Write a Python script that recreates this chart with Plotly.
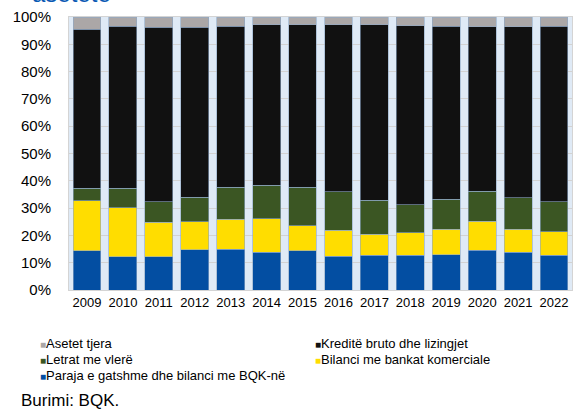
import plotly.graph_objects as go

years = ["2009", "2010", "2011", "2012", "2013", "2014", "2015",
         "2016", "2017", "2018", "2019", "2020", "2021", "2022"]
paraja = [14.4, 12.2, 12.2, 14.8, 14.9, 13.8, 14.4, 12.3, 12.7, 12.7, 12.9, 14.6, 13.9, 12.7]
bilanci = [18.3, 18.0, 12.6, 10.2, 11.1, 12.3, 9.1, 9.5, 7.7, 8.3, 9.3, 10.5, 8.3, 8.6]
letrat = [4.5, 7.0, 7.6, 9.0, 11.7, 12.2, 14.2, 14.1, 12.5, 10.2, 11.1, 11.0, 11.6, 11.1]
kredite = [58.3, 59.4, 63.9, 62.3, 58.9, 58.8, 59.5, 61.2, 64.2, 65.6, 63.4, 60.4, 62.7, 64.3]
tjera = [4.5, 3.4, 3.7, 3.7, 3.4, 2.9, 2.8, 2.9, 2.9, 3.2, 3.3, 3.5, 3.5, 3.3]

series = [
    ("Paraja e gatshme dhe bilanci me BQK-në", paraja, "#034ea2"),
    ("Bilanci me bankat komerciale", bilanci, "#ffdd00"),
    ("Letrat me vlerë", letrat, "#3b5623"),
    ("Kreditë bruto dhe lizingjet", kredite, "#111111"),
    ("Asetet tjera", tjera, "#aba7a7"),
]

FONT = "Liberation Sans, Arial, sans-serif"

fig = go.Figure()
for name, vals, col in series:
    fig.add_trace(go.Bar(
        x=years, y=vals, name=name, showlegend=False,
        marker=dict(color=col, line=dict(color="#8fa8c6", width=0.6)),
    ))

# legend placement: (legend id, series index, left px, top px)
legend_slots = [
    ("legend", 4, 0, 328), ("legend2", 3, 275, 328),
    ("legend3", 2, 0, 344), ("legend4", 1, 275, 344),
    ("legend5", 0, 0, 360),
]
legend_layout = {}
for lg, idx, lx, ly in legend_slots:
    name, vals, col = series[idx]
    fig.add_trace(go.Scatter(
        x=[None], y=[None], mode="lines", line=dict(width=0, color=col),
        name=f"<span style='color:{col};font-size:10px'>■</span>{name}",
        showlegend=True, legend=lg,
    ))
    legend_layout[lg] = dict(
        orientation="h", xref="container", yref="container",
        x=lx / 575, y=1 - ly / 409, xanchor="left", yanchor="top",
        font=dict(size=13, family=FONT),
        bgcolor="rgba(0,0,0,0)", itemwidth=30,
    )

fig.update_layout(
    width=575, height=409,
    margin=dict(l=69, r=3, t=17, b=119),
    barmode="stack", bargap=0.225,
    plot_bgcolor="#dfeaf6", paper_bgcolor="white",
    font=dict(family=FONT, color="#000000"),
    showlegend=True,
    **legend_layout,
)
fig.update_xaxes(
    type="category", showgrid=False, ticks="", tickfont=dict(size=13),
    showline=True, linecolor="#d4d4d4", linewidth=1, mirror=True,
)
fig.update_yaxes(
    range=[0, 100], dtick=10, ticksuffix="%", tickfont=dict(size=15),
    showgrid=True, gridcolor="#d2d2d2", gridwidth=1,
    showline=True, linecolor="#d4d4d4", linewidth=1, mirror=True,
    ticks="", ticklabelstandoff=14, zeroline=False,
)
fig.add_annotation(
    text="asetete", xref="paper", yref="paper", x=-0.078, y=1.031,
    xanchor="left", yanchor="bottom", showarrow=False,
    font=dict(size=24, color="#0a5ab4", family=FONT),
)
fig.add_annotation(
    text="Burimi: BQK.", xref="paper", yref="paper", x=-0.1, y=-0.403,
    xanchor="left", yanchor="middle", showarrow=False,
    font=dict(size=17, color="#000000", family=FONT),
)

fig.write_html("out.html")
